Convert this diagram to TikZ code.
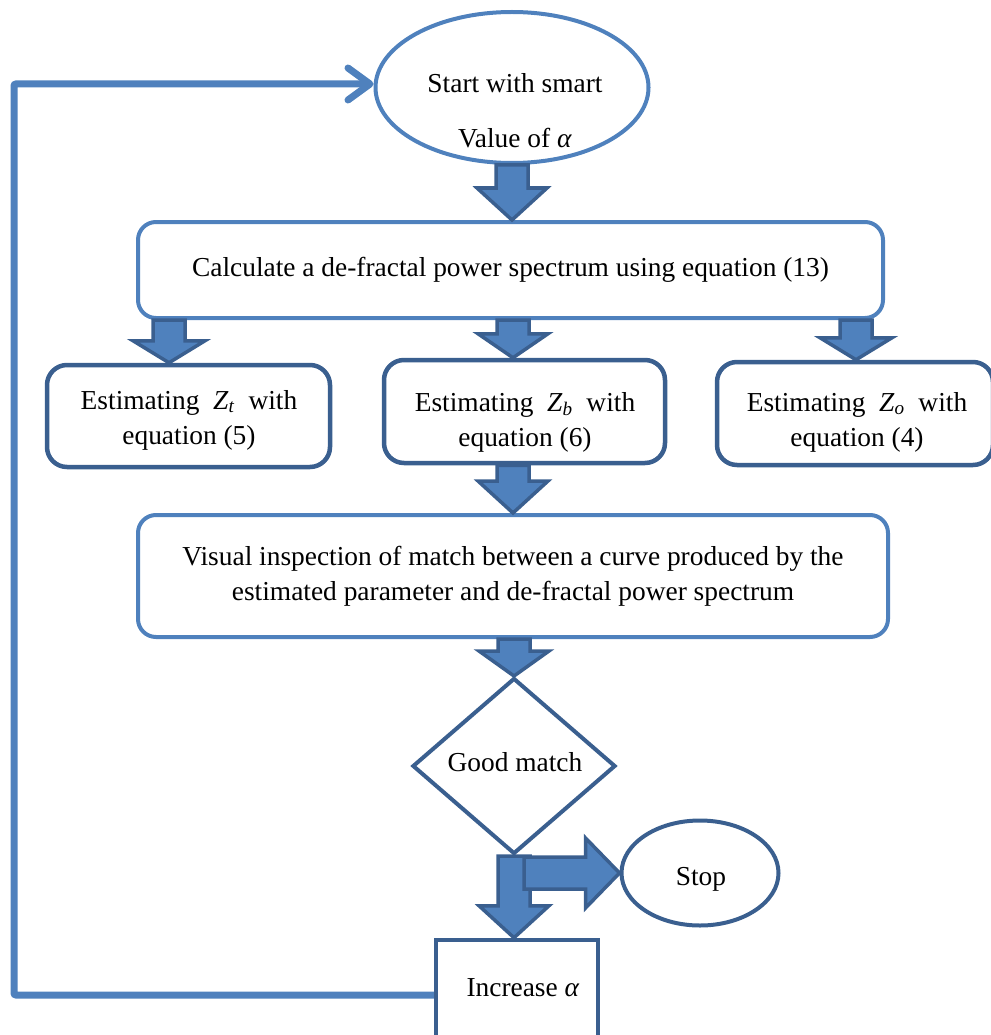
\documentclass[tikz,border=0pt]{standalone}
\usepackage{fontspec}
\setmainfont{Liberation Serif}
\usetikzlibrary{shapes.geometric,arrows.meta,calc}
\definecolor{lb}{RGB}{79,129,189}
\definecolor{db}{RGB}{58,95,143}
% vertical block arrow: x, from, to, shaft half width, head half width, head length
\newcommand\bdown[6]{%
 \draw[barrow] let \p1=(#2), \p2=(#3) in
  ({#1pt-#4pt},\y1) -- ({#1pt+#4pt},\y1) -- ({#1pt+#4pt},{\y2+#6pt}) -- ({#1pt+#5pt},{\y2+#6pt})
  -- ({#1pt},\y2) -- ({#1pt-#5pt},{\y2+#6pt}) -- ({#1pt-#4pt},{\y2+#6pt}) -- cycle;}
% horizontal block arrow: y (pixel), from, to, shaft half, head half, head length
\newcommand\bright[6]{%
 \draw[barrow] let \p1=(#2), \p2=(#3) in
  (\x1,{-#1pt+#4pt}) -- ({\x2-#6pt},{-#1pt+#4pt}) -- ({\x2-#6pt},{-#1pt+#5pt})
  -- (\x2,{-#1pt}) -- ({\x2-#6pt},{-#1pt-#5pt}) -- ({\x2-#6pt},{-#1pt-#4pt}) -- (\x1,{-#1pt-#4pt}) -- cycle;}
\begin{document}
\begin{tikzpicture}[x=1pt,y=-1pt, font=\fontsize{27.4}{35}\selectfont,
 lbbox/.style={draw=lb, line width=4pt, rounded corners=18pt, fill=white, inner sep=0pt, align=center},
 dbbox/.style={draw=db, line width=4.5pt, rounded corners=20pt, fill=white, inner sep=0pt},
 barrow/.style={draw=db, line width=3.5pt, fill=lb, line join=miter},
 loopline/.style={draw=lb, line width=7pt},
 txt/.style={inner sep=0pt, align=center}]
\useasboundingbox (0,0) rectangle (990,1035);

% loop connector corners
\coordinate (lc1) at (14,995);
\coordinate (lc2) at (14,84);

% nodes
\node[ellipse, draw=lb, line width=4pt, minimum width=273pt, minimum height=151pt, inner sep=0pt] (start) at (512,87.5) {};
\node[txt] (st1) at (515,83) {Start with smart};
\node[txt] (st2) at (515,138) {Value of \textit{α}};

\node[lbbox, minimum width=745pt, minimum height=96pt] (calc) at (510.5,270)
 {Calculate a de-fractal power spectrum using equation (13)};

\node[dbbox, minimum width=283pt, minimum height=102pt] (e1) at (188.5,416) {};
\node[txt] (e1t) at (189,420)
 {Estimating \ \textit{Z}\textsubscript{\textit{t}} \ with\\equation (5)};
\node[dbbox, minimum width=281pt, minimum height=103pt] (e2) at (524.5,411.5) {};
\node[txt] (e2t) at (525,422)
 {Estimating \ \textit{Z}\textsubscript{\textit{b}} \ with\\equation (6)};
\node[dbbox, minimum width=276pt, minimum height=103pt] (e3) at (855,413.5) {};
\node[txt] (e3t) at (857,422)
 {Estimating \ \textit{Z}\textsubscript{\textit{o}} \ with\\equation (4)};

\node[lbbox, minimum width=750pt, minimum height=122pt] (vis) at (513,576)
 {Visual inspection of match between a curve produced by the\\estimated parameter and de-fractal power spectrum};

\node[diamond, draw=db, line width=4pt, minimum width=203pt, minimum height=176pt, inner sep=0pt] (dec) at (514,766) {};
\node[txt] (dect) at (515,762) {Good match};

\node[ellipse, draw=db, line width=4pt, minimum width=157pt, minimum height=105pt, inner sep=0pt] (stop) at (700,873) {};
\node[txt] (stopt) at (701,879) {Stop};

\node[draw=db, line width=4.5pt, minimum width=162pt, minimum height=150pt, inner sep=0pt] (inc) at (517,1015) {};
\node[txt] (inct) at (523,988) {Increase \textit{α}};

\draw[loopline, rounded corners=2pt, -{Straight Barb[length=22pt,width=32pt,round]}]
 (inc.west |- lc1) -- (lc1) -- (lc2) -- (start.west |- lc2);

% block arrows
\bdown{512}{start.south}{calc.north}{16}{35}{32}
\bdown{169}{calc.south}{e1.north}{16}{36}{22}
\bdown{513}{calc.south}{e2.north}{16}{35}{24}
\bdown{856}{calc.south}{e3.north}{16}{36}{22}
\bdown{513}{e2.south}{vis.north}{16}{35}{32}
\bdown{514}{vis.south}{dec.north}{16}{35}{25}
\bdown{514}{dec.south}{inc.north}{16}{35}{32}
\coordinate (sa) at (524,873);
\bright{873}{sa}{stop.west}{16}{35}{34}
\end{tikzpicture}
\end{document}
